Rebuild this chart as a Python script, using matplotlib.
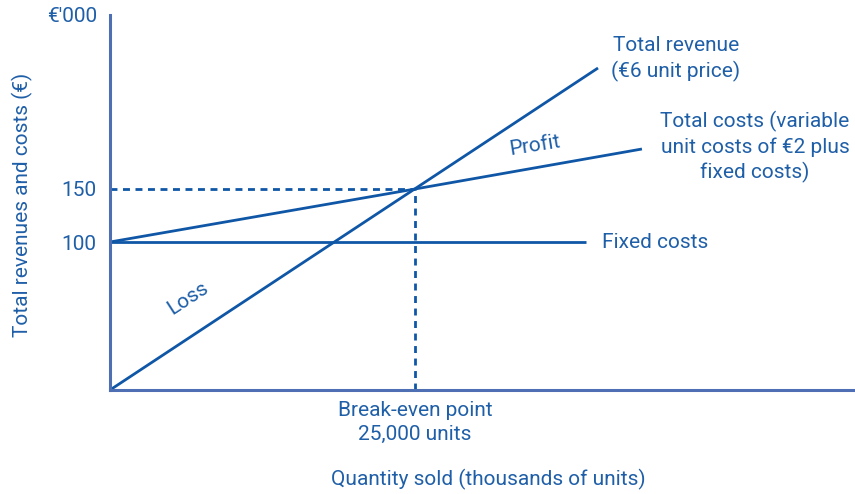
import numpy as np
import matplotlib
matplotlib.use('Agg')
import matplotlib.pyplot as plt

# economics of the example (thousands of units, thousands of euro)
fixed_cost = 100
unit_cost = 2
unit_price = 6
breakeven_q = fixed_cost / (unit_price - unit_cost)   # 25
breakeven_v = unit_price * breakeven_q                # 150

q_revenue = [0, 40]
q_costs = [0, breakeven_q, 43.6]
q_fixed = [0, 39]

revenue = [unit_price * q for q in q_revenue]
total_costs = [fixed_cost + unit_cost * q for q in q_costs]
fixed = [fixed_cost for q in q_fixed]

y_ticks = [100, 150]

# the drawing is not to scale: a piecewise scale keeps its proportions
scale_vals = [0, 100, 150, 187.2, 240, 400]
scale_disp = [0, 148, 201, 241, 322, 537]


def fwd(v):
    return np.interp(v, scale_vals, scale_disp)


def inv(d):
    return np.interp(d, scale_disp, scale_vals)


text_col = '#1f5fa8'
line_col = '#0f57a6'
axis_col = '#4e6fb4'
plt.rcParams['font.family'] = ['Roboto', 'DejaVu Sans']
fs = 15

W, H = 855, 494
fig = plt.figure(figsize=(W / 100, H / 100), dpi=100)
ax = fig.add_axes([110 / W, 1 - 390 / H, (853 - 110) / W, (390 - 15) / H])
ax.set_yscale('function', functions=(fwd, inv))
ax.set_xlim(0, 60.9)
ax.set_ylim(0, inv(375))

ax.plot(q_revenue, revenue, color=line_col, lw=2.0, solid_capstyle='butt')
ax.plot(q_costs, total_costs, color=line_col, lw=2.0, solid_capstyle='butt')
ax.plot(q_fixed, fixed, color=line_col, lw=2.0, solid_capstyle='butt')
ax.plot([0, breakeven_q], [breakeven_v, breakeven_v], color=line_col, lw=2.0, ls=(0, (2.5, 2)))
ax.plot([breakeven_q, breakeven_q], [0, breakeven_v], color=line_col, lw=2.0, ls=(0, (2.5, 2)))

for s in ['top', 'right']:
    ax.spines[s].set_visible(False)
for s in ['left', 'bottom']:
    ax.spines[s].set_color(axis_col)
    ax.spines[s].set_linewidth(2.2)

ax.set_yticks(y_ticks)
ax.set_yticklabels([str(t) for t in y_ticks])
ax.set_xticks([breakeven_q])
ax.set_xticklabels(['Break-even point\n25,000 units'], linespacing=1.35)
ax.tick_params(length=0, labelcolor=text_col, labelsize=fs)
ax.tick_params(axis='y', pad=10)
ax.tick_params(axis='x', pad=8)


def ftext(x, y, s, **kw):
    fig.text(x / W, 1 - y / H, s, color=text_col, fontsize=fs, va='center', **kw)


ftext(97, 16, "€'000", ha='right')
ftext(676, 59, 'Total revenue\n(€6 unit price)', ha='center', linespacing=1.35)
ftext(755, 147, 'Total costs (variable\nunit costs of €2 plus\nfixed costs)', ha='center', linespacing=1.35)
ftext(602, 242, 'Fixed costs', ha='left')
ftext(535, 146, 'Profit', ha='center', rotation=9, rotation_mode='anchor')
ftext(188, 298, 'Loss', ha='center', rotation=33, rotation_mode='anchor')
ftext(22, 205, 'Total revenues and costs (€)', ha='center', rotation=90)
ftext(488, 479, 'Quantity sold (thousands of units)', ha='center')

fig.savefig('out.png', dpi=100)
